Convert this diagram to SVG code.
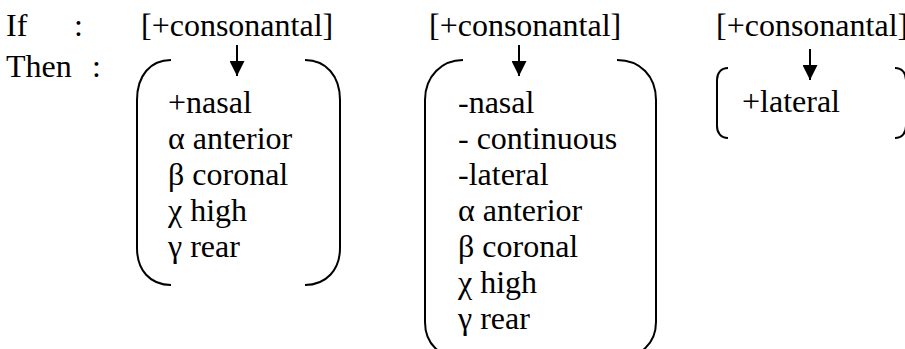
<svg xmlns="http://www.w3.org/2000/svg" width="905" height="349" viewBox="0 0 905 349">
  <style>
    .bracket { fill: none; stroke: #000; stroke-width: 2; }
    .shaft { stroke: #000; stroke-width: 2; }
  </style>
  <defs>
    <marker id="head" viewBox="0 0 14 14" refX="14" refY="7" markerWidth="15" markerHeight="15" markerUnits="userSpaceOnUse" orient="auto">
      <path d="M0 0 L14 7 L0 14 Z" fill="#000"/>
    </marker>
  </defs>

  <g font-family="Liberation Serif, serif" font-size="32" fill="#000">
    <!-- rule labels -->
    <g id="labels">
      <text x="6" y="36">If</text>
      <text x="74" y="36">:</text>
      <text x="6" y="77">Then</text>
      <text x="92" y="77">:</text>
    </g>

    <!-- condition: nasal stops -->
    <g id="rule1">
      <text x="141" y="36">[+consonantal]</text>
      <path class="bracket" d="M171 60 C150 60 137 76 137 100 L137 248 C137 270 150 285 171 285"/>
      <path class="bracket" d="M305 60 C326 60 340 76 340 100 L340 248 C340 270 326 285 305 285"/>
      <text x="168" y="113">+nasal</text>
      <text x="168" y="149">α anterior</text>
      <text x="168" y="185">β coronal</text>
      <text x="168" y="221">χ high</text>
      <text x="168" y="257">γ rear</text>
    </g>

    <!-- condition: oral stops -->
    <g id="rule2">
      <text x="429" y="36">[+consonantal]</text>
      <path class="bracket" d="M463 60 C442 60 425 76 425 100 L425 322 C425 344 440 358 463 358"/>
      <path class="bracket" d="M617 60 C640 60 656 76 656 100 L656 322 C656 344 640 358 617 358"/>
      <text x="458" y="113">-nasal</text>
      <text x="458" y="149">- continuous</text>
      <text x="458" y="185">-lateral</text>
      <text x="458" y="221">α anterior</text>
      <text x="458" y="257">β coronal</text>
      <text x="458" y="293">χ high</text>
      <text x="458" y="329">γ rear</text>
    </g>

    <!-- condition: laterals -->
    <g id="rule3">
      <text x="716" y="36">[+consonantal]</text>
      <path class="bracket" d="M728 68 C721 68 717 73 717 80 L717 126 C717 133 721 138 728 138"/>
      <path class="bracket" d="M895 68 C902 68 906 73 906 80 L906 126 C906 133 902 138 895 138"/>
      <text x="742" y="112">+lateral</text>
    </g>
  </g>

  <!-- implication arrows -->
  <g id="connectors">
    <line class="shaft" x1="237" y1="45" x2="237" y2="76" marker-end="url(#head)"/>
    <line class="shaft" x1="519" y1="45" x2="519" y2="76" marker-end="url(#head)"/>
    <line class="shaft" x1="810" y1="49" x2="810" y2="80" marker-end="url(#head)"/>
  </g>
</svg>
